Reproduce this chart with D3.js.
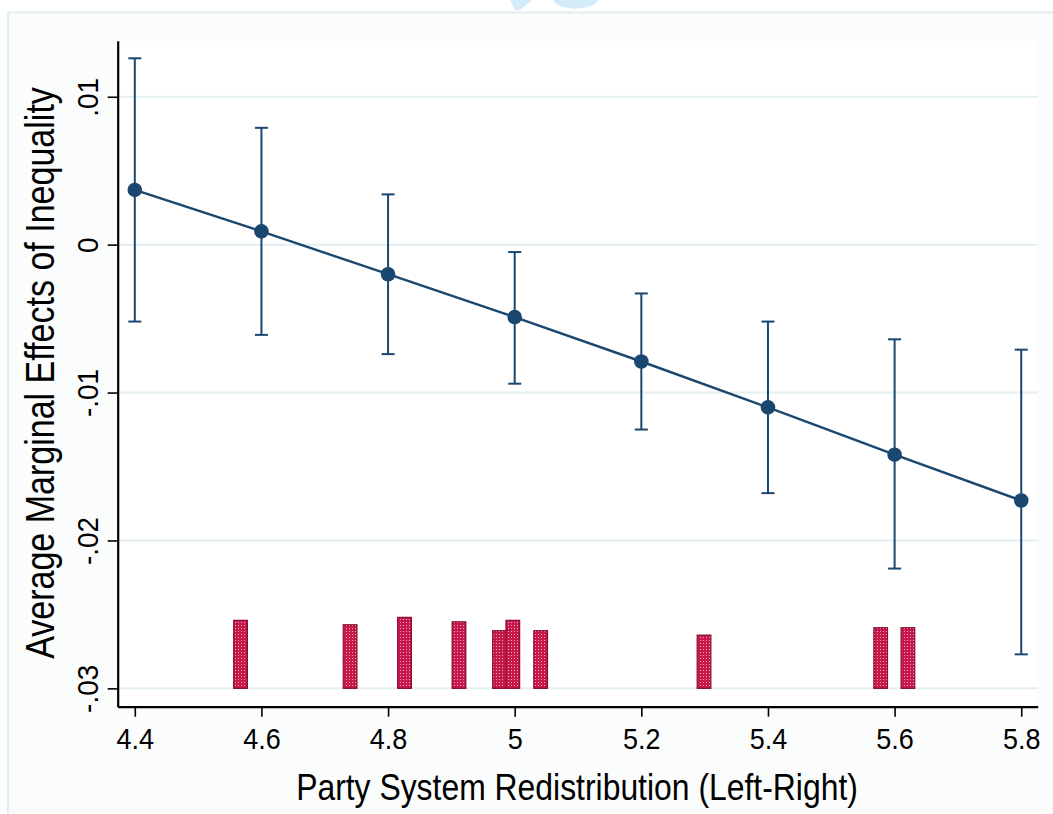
<!DOCTYPE html>
<html>
<head>
<meta charset="utf-8">
<script src="https://cdn.jsdelivr.net/npm/d3@7"></script>
<style>
  body { margin: 0; background: #fff; }
  svg { display: block; font-family: "Liberation Sans", Arial, sans-serif; }
</style>
</head>
<body>
<div id="container"></div>
<script>
/* DATA */
const redistribution = [4.4, 4.6, 4.8, 5.0, 5.2, 5.4, 5.6, 5.8];
const marginalEffect = [0.0037, 0.0009, -0.0020, -0.0049, -0.0079, -0.0110, -0.0142, -0.0173];
const ciLower = [-0.0052, -0.0061, -0.0074, -0.0094, -0.0125, -0.0168, -0.0219, -0.0277];
const ciUpper = [0.0126, 0.0079, 0.0034, -0.0005, -0.0033, -0.0052, -0.0064, -0.0071];

// distribution of the moderator (bars at the bottom)
const histX = [4.567, 4.740, 4.826, 4.912, 4.976, 4.997, 5.041, 5.299, 5.578, 5.621];
const histTop = [-0.0254, -0.0257, -0.0252, -0.0255, -0.0261, -0.0254, -0.0261, -0.0264, -0.0259, -0.0259];
const histBase = -0.03;

const xTicks = [4.4, 4.6, 4.8, 5.0, 5.2, 5.4, 5.6, 5.8];
const xTickLabels = ["4.4", "4.6", "4.8", "5", "5.2", "5.4", "5.6", "5.8"];
const yTicks = [0.01, 0, -0.01, -0.02, -0.03];
const yTickLabels = [".01", "0", "-.01", "-.02", "-.03"];

/* CONSTANTS AND GLOBALS */
const width = 1053, height = 814;
const plot = { left: 117.7, right: 1037.7, top: 40.7, bottom: 706.7 };
const navy = "#1a476f";
const tickSquash = 0.93;  // text in the picture is a little narrow
const titleSquash = 0.85;

const svg = d3.select("#container")
  .append("svg")
  .attr("width", width)
  .attr("height", height);

// outer frame
svg.append("rect")
  .attr("x", 8).attr("y", 12.5)
  .attr("width", width + 10).attr("height", height)
  .attr("fill", "#fbfcfc")
  .attr("stroke", "#e2eded")
  .attr("stroke-width", 2);

// bit of a logo clipped at the top
svg.append("path")
  .attr("d", "M510,0 L532,0 L520,10 L515,10 Z")
  .attr("fill", "#d4ecfa");
svg.append("path")
  .attr("d", "M553,0 A23,11 0 0 0 598,0 Z")
  .attr("fill", "#d4ecfa");

svg.append("rect")
  .attr("x", plot.left).attr("y", plot.top)
  .attr("width", plot.right - plot.left).attr("height", plot.bottom - plot.top)
  .attr("fill", "#ffffff");

// SCALES
const x = d3.scaleLinear().domain([4.373, 5.826]).range([plot.left, plot.right]);
const y = d3.scaleLinear().domain([-0.03124, 0.01379]).range([plot.bottom, plot.top]);

// GRIDLINES
svg.append("g")
  .selectAll("line")
  .data(yTicks)
  .join("line")
  .attr("x1", plot.left)
  .attr("x2", plot.right)
  .attr("y1", d => y(d))
  .attr("y2", d => y(d))
  .attr("stroke", "#e3eeef")
  .attr("stroke-width", 2);

// PATTERN FOR BARS
const defs = svg.append("defs");
const pat = defs.append("pattern")
  .attr("id", "dots")
  .attr("width", 3).attr("height", 3)
  .attr("patternUnits", "userSpaceOnUse");
pat.append("rect").attr("width", 3).attr("height", 3).attr("fill", "#c8174a");
pat.append("rect").attr("x", 1).attr("y", 1).attr("width", 1).attr("height", 1).attr("fill", "#f3a9bd");

// HISTOGRAM BARS
const barW = 0.0216;
svg.append("g")
  .selectAll("rect")
  .data(histX.map((d, i) => ({ x: d, top: histTop[i] })))
  .join("rect")
  .attr("x", d => x(d.x - barW / 2))
  .attr("width", d => x(d.x + barW / 2) - x(d.x - barW / 2))
  .attr("y", d => y(d.top))
  .attr("height", d => y(histBase) - y(d.top))
  .attr("fill", "url(#dots)")
  .attr("stroke", "#86102e")
  .attr("stroke-width", 1.2);

// AXES
const xAxis = svg.append("g")
  .attr("transform", `translate(0,${plot.bottom})`)
  .call(d3.axisBottom(x).tickValues(xTicks).tickSize(10).tickSizeOuter(0)
    .tickFormat((d, i) => xTickLabels[i]));
xAxis.select(".domain").attr("stroke-width", 2.2);
xAxis.selectAll(".tick line").attr("stroke-width", 1.6);
xAxis.selectAll(".tick text")
  .attr("y", null).attr("dy", null)
  .attr("font-size", 29)
  .attr("fill", "#000")
  .attr("font-family", "Liberation Sans, Arial, sans-serif")
  .attr("transform", `translate(0,${749 - plot.bottom}) scale(${tickSquash},1)`);

const yAxis = svg.append("g")
  .attr("transform", `translate(${plot.left},0)`)
  .call(d3.axisLeft(y).tickValues(yTicks).tickSize(10).tickSizeOuter(0)
    .tickFormat((d, i) => yTickLabels[i]));
yAxis.select(".domain").attr("stroke-width", 2.2);
yAxis.selectAll(".tick line").attr("stroke-width", 1.6);
yAxis.selectAll(".tick text")
  .attr("x", null).attr("dy", null)
  .attr("text-anchor", "middle")
  .attr("font-size", 30)
  .attr("fill", "#000")
  .attr("font-family", "Liberation Sans, Arial, sans-serif")
  .attr("transform", `translate(${97.5 - plot.left},0) scale(1,${tickSquash}) rotate(-90)`);

// ERROR BARS
const rows = redistribution.map((d, i) => ({ x: d, est: marginalEffect[i], lo: ciLower[i], hi: ciUpper[i] }));
const capW = 6.5;
const eb = svg.append("g").attr("stroke", navy).attr("stroke-width", 2).attr("fill", "none");
eb.selectAll("line.ci")
  .data(rows).join("line").attr("class", "ci")
  .attr("x1", d => x(d.x)).attr("x2", d => x(d.x))
  .attr("y1", d => y(d.lo)).attr("y2", d => y(d.hi));
eb.selectAll("line.capHi")
  .data(rows).join("line").attr("class", "capHi")
  .attr("x1", d => x(d.x) - capW).attr("x2", d => x(d.x) + capW)
  .attr("y1", d => y(d.hi)).attr("y2", d => y(d.hi));
eb.selectAll("line.capLo")
  .data(rows).join("line").attr("class", "capLo")
  .attr("x1", d => x(d.x) - capW).attr("x2", d => x(d.x) + capW)
  .attr("y1", d => y(d.lo)).attr("y2", d => y(d.lo));

// LINE AND POINTS
svg.append("path")
  .datum(rows)
  .attr("d", d3.line().x(d => x(d.x)).y(d => y(d.est)))
  .attr("fill", "none")
  .attr("stroke", navy)
  .attr("stroke-width", 2.4);

svg.append("g")
  .selectAll("circle")
  .data(rows)
  .join("circle")
  .attr("cx", d => x(d.x))
  .attr("cy", d => y(d.est))
  .attr("r", 7.3)
  .attr("fill", navy);

// AXIS TITLES (sized to the span they cover in the picture)
const xTitle = svg.append("text")
  .attr("text-anchor", "middle")
  .attr("font-size", 100)
  .text("Party System Redistribution (Left-Right)");
const xLen = xTitle.node().getComputedTextLength();
xTitle.attr("font-size", 100 * (562 / titleSquash) / xLen)
  .attr("transform", `translate(577,800) scale(${titleSquash},1)`);

const yTitle = svg.append("text")
  .attr("text-anchor", "middle")
  .attr("font-size", 100)
  .text("Average Marginal Effects of Inequality");
const yLen = yTitle.node().getComputedTextLength();
yTitle.attr("font-size", 100 * (572 / titleSquash) / yLen)
  .attr("transform", `translate(53.5,373) scale(1,${titleSquash}) rotate(-90)`);
</script>
</body>
</html>
